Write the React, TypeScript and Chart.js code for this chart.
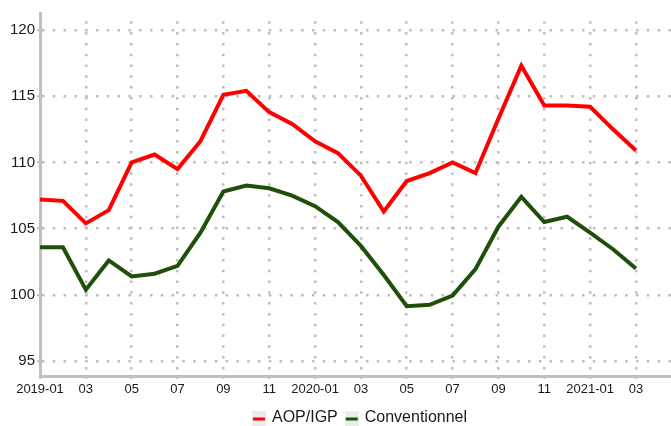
import React, { useEffect, useRef } from 'react';
import { Chart, registerables } from 'chart.js';

Chart.register(...registerables);

const months = [
  '2019-01', '2019-02', '2019-03', '2019-04', '2019-05', '2019-06', '2019-07', '2019-08', '2019-09',
  '2019-10', '2019-11', '2019-12', '2020-01', '2020-02', '2020-03', '2020-04', '2020-05', '2020-06',
  '2020-07', '2020-08', '2020-09', '2020-10', '2020-11', '2020-12', '2021-01', '2021-02', '2021-03',
];

const tickLabels = ['2019-01', '03', '05', '07', '09', '11', '2020-01', '03', '05', '07', '09', '11', '2021-01', '03'];

const aopIgp = [
  107.2, 107.1, 105.4, 106.4, 110.0, 110.6, 109.5, 111.6, 115.1, 115.4, 113.8, 112.9, 111.6, 110.7,
  109.0, 106.3, 108.6, 109.2, 110.0, 109.2, 113.3, 117.3, 114.3, 114.3, 114.2, 112.5, 110.9,
];

const conventionnel = [
  103.6, 103.6, 100.4, 102.6, 101.4, 101.6, 102.2, 104.7, 107.8, 108.25, 108.05, 107.5, 106.7, 105.5,
  103.7, 101.5, 99.15, 99.25, 99.95, 101.95, 105.15, 107.4, 105.5, 105.9, 104.7, 103.45, 102.0,
];

const seriesNames = ['AOP/IGP', 'Conventionnel'];
const seriesColors = ['#ff0000', '#1e500a'];

const FONT = "'Liberation Sans', Arial, Helvetica, sans-serif";
const GRID_COLOR = '#bdbdbd';
const AXIS_COLOR = '#c0c0c0';
const TEXT_COLOR = '#1a1a1a';

function makeIcon(color: string) {
  const c = document.createElement('canvas');
  c.width = 14;
  c.height = 15;
  const ctx = c.getContext('2d')!;
  ctx.fillStyle = '#ececec';
  ctx.fillRect(0, 0, 14, 15);
  ctx.fillStyle = color;
  ctx.fillRect(1, 7, 12, 3);
  return c;
}

export default function App() {
  const ref = useRef<HTMLCanvasElement | null>(null);

  useEffect(() => {
    document.body.style.margin = '0';
    const canvas = ref.current;
    if (!canvas) return;
    const icons = seriesColors.map(makeIcon);

    const layoutTweak = {
      id: 'layoutTweak',
      afterLayout(chart: any) {
        const lg = chart.legend;
        if (lg) {
          lg.left += 25;
          lg.right += 25;
          lg.top += 10;
          lg.bottom += 10;
        }
        const xs = chart.scales.x;
        if (xs) {
          xs.bottom += 14;
          xs.height += 14;
        }
      },
    };

    const chart = new Chart(canvas, {
      type: 'line',
      data: {
        datasets: [
          {
            label: seriesNames[0],
            data: aopIgp.map((v, i) => ({ x: i, y: v })),
            borderColor: seriesColors[0],
            backgroundColor: seriesColors[0],
            borderWidth: 4,
            pointRadius: 0,
            tension: 0,
          },
          {
            label: seriesNames[1],
            data: conventionnel.map((v, i) => ({ x: i, y: v })),
            borderColor: seriesColors[1],
            backgroundColor: seriesColors[1],
            borderWidth: 4,
            pointRadius: 0,
            tension: 0,
          },
        ],
      },
      options: {
        responsive: false,
        animation: false,
        devicePixelRatio: 1,
        layout: { padding: { top: 13, left: 0, right: 0, bottom: 0 } },
        plugins: {
          tooltip: { enabled: false },
          legend: {
            position: 'bottom',
            labels: {
              usePointStyle: true,
              boxWidth: 10,
              boxHeight: 15,
              padding: 9,
              color: TEXT_COLOR,
              font: { family: FONT, size: 16 },
              generateLabels: (ch: any) => {
                const items = (Chart.defaults.plugins.legend.labels as any).generateLabels(ch);
                items.forEach((it: any, i: number) => {
                  it.pointStyle = icons[i];
                });
                return items;
              },
            },
          },
        },
        scales: {
          x: {
            type: 'linear',
            min: 0,
            max: 27.53,
            afterBuildTicks: (s: any) => {
              s.ticks = tickLabels.map((_, i) => ({ value: i * 2 }));
            },
            afterFit: (s: any) => {
              s.height = 15;
            },
            ticks: {
              autoSkip: false,
              maxRotation: 0,
              padding: 3,
              color: TEXT_COLOR,
              font: { family: FONT, size: 13 },
              callback: (v: any) => tickLabels[Math.round(Number(v) / 2)] ?? '',
            },
            grid: {
              color: GRID_COLOR,
              lineWidth: 2.5,
              tickLength: 3,
              tickWidth: 2,
              tickColor: AXIS_COLOR,
            },
            border: { color: AXIS_COLOR, width: 3, dash: [2.5, 8.3], dashOffset: 2.5 },
          },
          y: {
            type: 'linear',
            min: 93.88,
            max: 121.28,
            afterFit: (s: any) => {
              s.width = 40;
            },
            ticks: {
              stepSize: 5,
              includeBounds: false,
              padding: 2,
              color: TEXT_COLOR,
              font: { family: FONT, size: 15 },
            },
            grid: {
              color: GRID_COLOR,
              lineWidth: 2.5,
              tickLength: 3,
              tickWidth: 2,
              tickColor: AXIS_COLOR,
            },
            border: { color: AXIS_COLOR, width: 3, dash: [2.5, 8.3] },
          },
        },
      },
      plugins: [layoutTweak],
    } as any);

    return () => chart.destroy();
  }, []);

  return (
    <div style={{ width: 671, height: 426, position: 'relative' }}>
      <canvas ref={ref} width={671} height={426} style={{ display: 'block' }} />
    </div>
  );
}
